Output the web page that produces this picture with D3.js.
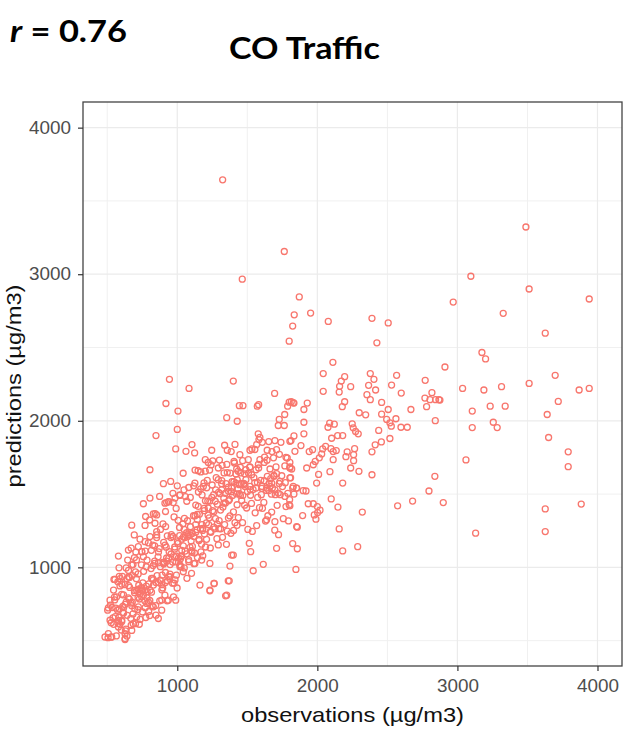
<!DOCTYPE html>
<html>
<head>
<meta charset="utf-8">
<script src="https://cdn.jsdelivr.net/npm/d3@7"></script>
<style>
  body { margin: 0; background: #fff; }
  svg { display: block; }
</style>
</head>
<body>
<svg id="chart" width="627" height="731"></svg>
<script>
// tick values
const majorTicks = [1000, 2000, 3000, 4000]
const minorTicks = [500, 1500, 2500, 3500]
const axisDomain = [327, 4175]

const farPoints = [
  [3489,3322],[3096,2986],[3512,2899],[2970,2810],[3941,2831],[3327,2733],[3627,2598],[3175,2466],
  [3201,2422],[2911,2367],[3698,2310],[3512,2255],[3037,2221],[3189,2210],[3315,2233],[3869,2210],
  [3941,2221],[2875,2141],[3106,2066],[3234,2100],[3341,2100],[3720,2132],[3641,2043],[3106,1954],
  [3256,1990],[3284,1954],[3651,1886],[3791,1788],[3791,1687],[3061,1733],[2899,1442],[3627,1399],
  [3884,1432],[3130,1233],[3627,1244]
]

const topPoints = [
  [1324,3644],[1764,3155],[1464,2966],[1871,2845],[1835,2723],[1952,2735],[1824,2646],[2078,2678],
  [2390,2699],[2506,2668],[1799,2543]
]

const midPoints = [
  [2425,2532],[2111,2399],[2042,2322],[2378,2322],[2195,2301],[2566,2310],[2171,2271],[2404,2283],
  [2770,2276],[2159,2235],[2238,2233],[2366,2242],[2530,2244],[2042,2201],[2156,2196],[2416,2210],
  [2354,2178],[2599,2189],[2818,2192],[2378,2144],[2768,2155],[2804,2144],[2844,2144],[2868,2144],
  [2780,2096],[1814,2130],[1833,2121],[1928,2121],[1904,2077],[2195,2130],[2178,2096],[2459,2125],
  [2506,2077],[2668,2077],[2299,2055],[2345,2041],[2459,2045],[2495,2009],[2518,1986],[2528,1963],
  [2561,2014],[2597,1956],[2642,1956],[2842,2001],[1904,1990],[1904,1911],[1833,1897],[1804,1860],
  [2088,1984],[2076,1956],[2121,1977],[2249,1979],[2256,1952],[2273,1927],[2292,1911],[2145,1899],
  [2181,1899],[2102,1881],[2438,1934],[2518,1879],[2457,1856],[2413,1836],[2390,1788],[1883,1831],
  [2059,1826],[2038,1808],[1942,1790],[1966,1803],[2097,1810],[2113,1790],[2135,1797],[2031,1774],
  [2014,1747],[2213,1788],[2266,1810],[2204,1755],[2259,1769],[2259,1728],[2113,1735],[1985,1723],
  [1971,1700],[1924,1678],[1804,1716],[1804,1678],[2238,1678],[2297,1655],[2090,1653],[2009,1634],
  [2390,1632],[1995,1575],[2181,1575],[2839,1621],[2797,1521],[1809,1612],[1828,1552],[1852,1541],
  [1833,1500],[1899,1523],[1919,1521],[1804,1420],[1935,1434],[1971,1434],[2000,1415],[2019,1390],
  [2002,1374],[1990,1329],[1978,1358],[2099,1467],[2147,1411],[2321,1377],[2573,1420],[2680,1452],
  [1895,1353],[1857,1274],[2156,1262],[1824,1162],[1857,1127],[2181,1112],[2288,1141]
]

const upperCluster = [
  [944,2283],[1400,2271],[1084,2221],[1695,2187],[919,2118],[1443,2103],[1469,2103],[1571,2100],
  [1581,2110],[1799,2127],[1828,2123],[1788,2100],[1005,2066],[1353,2021],[1428,1997],[1767,2043],
  [1728,2009],[1721,1968],[1764,1968],[1000,1941],[848,1899],[1578,1911],[1583,1872],[1607,1853],
  [1567,1838],[1533,1808],[1519,1799],[1697,1865],[1740,1853],[1812,1865],[1105,1838],[1062,1792],
  [1124,1781],[989,1808],[1246,1799],[1338,1833],[1357,1799],[1385,1790],[1642,1799],[1676,1790],
  [1709,1803],[1776,1751],[1840,1792],[1200,1735],[1221,1716],[1241,1699],[1293,1678],[1447,1769],
  [1405,1723],[1467,1728],[1507,1735],[1519,1685],[1590,1735],[1621,1716],[1581,1678],[1424,1671],
  [1452,1644],[1490,1666],[1531,1632],[1562,1666],[1490,1598],[1428,1598],[1662,1671],[1705,1685],
  [1643,1621],[1690,1621],[1733,1587],[1674,1575],[1804,1685],[1817,1671],[1785,1746],[1804,1610],
  [1824,1541],[1852,1541],[805,1666],[953,1586],[901,1571],[1048,1529],[1126,1575],[1186,1552],
  [1214,1593],[1293,1598],[1317,1571],[1348,1571],[1365,1548],[1317,1529],[1274,1529],[1388,1541],
  [1419,1575],[1443,1564],[1476,1564],[1519,1552],[1562,1541],[1605,1552],[1638,1541],[1662,1552],
  [1697,1529],[1721,1507],[1776,1415],[1799,1427],[1852,1278],[1638,1324],[1697,1312],[805,1473],
  [853,1358],[912,1438],[937,1449],[984,1473],[1019,1495]
]

const lowerCluster = [
  [758,1434],[924,1442],[971,1442],[829,1365],[774,1347],[841,1301],[675,1288],[917,1278],
  [853,1244],[693,1221],[770,1175],[805,1210],[722,1141],[746,1107],[651,1118],[580,1077],
  [646,1050],[675,1016],[584,997],[555,917],[545,845],[520,776],[503,708],[520,639],
  [508,548],[532,525],[627,514],[675,570],[580,593],[603,639],[1162,879],[1233,840],
  [1262,890],[1345,806],[1364,908],[1388,1084],[1293,1153],[1233,1027],[1174,1050],[1126,1027],
  [1102,959],[1019,1016],[1043,970],[984,914],[989,776],[912,810],[936,776],[865,651],
  [889,708],[829,731],[782,754],[746,799],[710,662],[722,731],[770,845],[484,525],
  [627,507],[548,918],[1542,977],[1614,1021],[1847,986],[1709,1130],[1353,810],[1371,908],
  [1264,890],[1233,845],[1376,1009],[1400,1084],[1514,1164],[1524,1107]
]

// crowded part of the cloud, estimated block by block
const densePointsA = [
  [508,723],[506,520],[528,622],[523,743],[535,726],[526,524],[541,655],[552,797],[546,611],[561,722],
  [557,664],[553,778],[574,707],[565,532],[576,902],[567,799],[580,637],[586,939],[577,617],[585,716],
  [591,873],[584,659],[600,572],[593,923],[603,816],[591,611],[604,885],[612,692],[604,631],[616,812],
  [611,734],[608,938],[627,547],[617,725],[626,882],[617,689],[630,567],[636,764],[627,747],[635,996],
  [641,923],[634,579],[650,792],[643,673],[653,876],[641,531],[653,935]
]

const densePointsB = [
  [658,783],[652,979],[668,652],[660,863],[670,756],[659,931],[671,605],[679,762],[671,1131],[684,682],
  [679,944],[675,738],[694,1067],[685,615],[694,842],[684,1019],[697,717],[704,1104],[695,827],[702,616],
  [708,923],[702,969],[718,712],[710,843],[720,796],[709,1051],[721,955],[729,612],[721,851],[734,1192],
  [729,784],[725,878],[744,1017],[735,645],[744,862],[734,819],[747,1107],[754,894],[745,847],[752,696],
  [758,1073],[752,839],[768,772],[760,973],[770,1286],[759,811],[771,725],[779,872],[771,1111],[784,792],
  [779,1004],[775,658],[794,1167],[785,835],[794,762],[784,1049],[797,887],[804,774]
]

const densePointsC = [
  [803,1323],[796,699],[813,992],[806,843],[815,1116],[803,671],[816,925],[825,1152],[816,831],[828,1012],
  [824,924],[821,738],[839,1147],[829,915],[839,1042],[830,879],[842,1367],[848,674],[840,1027],[848,896],
  [853,1203],[846,739],[863,1072],[856,943],[865,896],[853,1221],[866,1105],[875,772],[866,1031],[878,912],
  [874,1484],[871,1128],[889,777],[879,1005],[889,882],[880,1259],[892,947],[898,1034],[890,847],[898,1296],
  [903,1023],[896,859],[913,1152],[906,1033],[915,896],[903,1171],[916,965],[925,1042],[916,1381],[928,772],
  [924,1064],[921,1138],[939,937],[929,1215],[939,1062],[930,909],[942,1107],[948,954],[940,1447],[948,936]
]

const densePointsD = [
  [955,1203],[949,1019],[966,892],[958,1223],[967,1036],[956,1091],[969,1505],[977,892],[968,1211],[981,1072],
  [977,1344],[973,798],[991,1037],[982,1125],[992,1402],[982,1139],[994,947],[1001,1174],[993,1077],[1000,1556],
  [1005,1163],[999,859],[1016,1272],[1008,1063],[1017,1216],[1006,1321],[1019,1005],[1027,1072],[1018,1491],[1031,1192],
  [1027,1004],[1023,1058],[1041,1297],[1032,1115],[1042,1642],[1032,1079],[1044,1207],[1051,1334],[1043,1147],[1050,996],
  [1055,1203],[1049,1259],[1066,1092],[1058,1483],[1067,1236],[1056,1111],[1069,925],[1077,1212],[1068,1451],[1081,1052],
  [1077,1224],[1073,1318],[1091,1137],[1082,1545],[1092,1222],[1082,1039],[1094,1277],[1101,1114],[1093,1477]
]

const densePointsE = [
  [1105,1103],[1099,1179],[1116,1352],[1108,1143],[1117,1556],[1106,1231],[1119,1025],[1127,1352],[1118,1211],[1131,1292],
  [1127,1664],[1123,1098],[1141,1257],[1132,1425],[1142,1362],[1132,1239],[1144,1067],[1151,1514],[1143,1327],[1150,1416],
  [1155,1183],[1149,1659],[1166,1262],[1158,1363],[1167,1536],[1156,1191],[1169,1105],[1177,1292],[1168,1651],[1181,1252],
  [1177,1494],[1173,1158],[1191,1577],[1182,1265],[1192,1402],[1182,1079],[1194,1227],[1201,1454],[1193,1387],[1200,1656],
  [1208,1303],[1202,1139],[1218,1452],[1210,1543],[1220,1356],[1209,1191],[1221,1405],[1232,1452],[1224,1291],[1236,1132],
  [1231,1664],[1228,1338],[1247,1477],[1237,1245],[1249,1562],[1240,1239],[1252,1387],[1261,1274],[1253,1727],[1260,1496],
  [1268,1263],[1262,1379],[1278,1612],[1273,1333],[1283,1196],[1271,1451],[1286,1295],[1295,1512],[1286,1431],[1301,1732],
  [1297,1264]
]

const densePointsF = [
  [1305,1503],[1299,1319],[1318,1592],[1310,1263],[1320,1696],[1309,1391],[1323,1205],[1332,1472],[1326,1411],[1338,1292],
  [1334,1644],[1333,1438],[1351,1157],[1342,1505],[1354,1702],[1344,1439],[1357,1247],[1366,1454],[1357,1647],[1365,1336],
  [1373,1463],[1366,1519],[1383,1232],[1378,1643],[1387,1516],[1376,1351],[1391,1585],[1402,1252],[1394,1491],[1408,1712],
  [1404,1584],[1401,1378],[1419,1637],[1412,1305],[1422,1502],[1412,1839],[1427,1427],[1434,1534],[1427,1287],[1435,1656],
  [1443,1503],[1436,1339],[1456,1572],[1450,1683],[1460,1456],[1451,1491],[1466,1305],[1475,1572],[1468,1491],[1484,1552],
  [1481,1424],[1481,1638],[1501,1517],[1495,1405]
]

const densePointsG = [
  [1508,1643],[1504,1259],[1523,1492],[1518,1683],[1530,1436],[1521,1531],[1536,1245],[1547,1612],[1541,1531],[1556,1372],
  [1554,1804],[1553,1578],[1574,1477],[1567,1285],[1579,1702],[1572,1579],[1587,1407],[1596,1594],[1590,1887],[1600,1496],
  [1608,1403],[1604,1539],[1623,1752],[1618,1443],[1630,1316],[1621,1591],[1636,1525],[1647,1352],[1641,1731],[1656,1572],
  [1654,1524],[1653,1858],[1674,1377],[1667,1605],[1679,1542],[1672,1499],[1687,1747],[1696,1254],[1690,1627],[1700,1496],
  [1713,1423],[1709,1639],[1728,1572],[1723,1223],[1735,1496],[1729,1771],[1746,1625],[1757,1332],[1751,1551],[1768,1692],
  [1769,1484],[1771,1578],[1794,1317],[1789,1505],[1802,1462]
]

const points = [
  ...densePointsA, ...densePointsB, ...densePointsC, ...densePointsD, ...densePointsE,
  ...densePointsF, ...densePointsG, ...lowerCluster, ...upperCluster, ...midPoints,
  ...topPoints, ...farPoints
].map(([obs, pred]) => ({ obs, pred }))

const panel = { left: 83, right: 622, top: 102, bottom: 666 }
const svg = d3.select('#chart')

const x = d3.scaleLinear().domain(axisDomain).range([panel.left, panel.right])
const y = d3.scaleLinear().domain(axisDomain).range([panel.bottom, panel.top])

// grid lines
const grid = svg.append('g')
grid.selectAll('.vminor').data(minorTicks).enter().append('line')
  .attr('x1', d => x(d)).attr('x2', d => x(d))
  .attr('y1', panel.top).attr('y2', panel.bottom)
  .attr('stroke', '#F0F0F0').attr('stroke-width', 1)
grid.selectAll('.hminor').data(minorTicks).enter().append('line')
  .attr('y1', d => y(d)).attr('y2', d => y(d))
  .attr('x1', panel.left).attr('x2', panel.right)
  .attr('stroke', '#F0F0F0').attr('stroke-width', 1)
grid.selectAll('.vmajor').data(majorTicks).enter().append('line')
  .attr('x1', d => x(d)).attr('x2', d => x(d))
  .attr('y1', panel.top).attr('y2', panel.bottom)
  .attr('stroke', '#EBEBEB').attr('stroke-width', 1.2)
grid.selectAll('.hmajor').data(majorTicks).enter().append('line')
  .attr('y1', d => y(d)).attr('y2', d => y(d))
  .attr('x1', panel.left).attr('x2', panel.right)
  .attr('stroke', '#EBEBEB').attr('stroke-width', 1.2)

// points
svg.append('g').selectAll('circle')
  .data(points)
  .enter()
  .append('circle')
  .attr('cx', d => x(d.obs))
  .attr('cy', d => y(d.pred))
  .attr('r', 3)
  .attr('fill', 'none')
  .attr('stroke', '#F8766D')
  .attr('stroke-width', 1.3)

// border
svg.append('rect')
  .attr('x', panel.left).attr('y', panel.top)
  .attr('width', panel.right - panel.left).attr('height', panel.bottom - panel.top)
  .attr('fill', 'none').attr('stroke', '#444').attr('stroke-width', 1.3)

// axes
const fmt = d3.format('d')
const xAxis = svg.append('g')
  .attr('transform', `translate(0,${panel.bottom})`)
  .call(d3.axisBottom(x).tickValues(majorTicks).tickFormat(fmt).tickSize(5).tickPadding(8))
const yAxis = svg.append('g')
  .attr('transform', `translate(${panel.left},0)`)
  .call(d3.axisLeft(y).tickValues(majorTicks).tickFormat(fmt).tickSize(5).tickPadding(7))

for (const axis of [xAxis, yAxis]) {
  axis.select('.domain').remove()
  axis.selectAll('.tick line').attr('stroke', '#333').attr('stroke-width', 1.2)
  axis.selectAll('.tick text')
    .attr('fill', '#4D4D4D')
    .style('font-family', '"Liberation Sans", Arial, sans-serif')
    .style('font-size', '18px')
    .attr('textLength', 42)
    .attr('lengthAdjust', 'spacingAndGlyphs')
}

// axis titles
svg.append('text')
  .attr('x', (panel.left + panel.right) / 2)
  .attr('y', 722)
  .attr('text-anchor', 'middle')
  .attr('textLength', 223)
  .attr('lengthAdjust', 'spacingAndGlyphs')
  .style('font-family', '"Liberation Sans", Arial, sans-serif')
  .style('font-size', '21px')
  .attr('fill', '#111')
  .text('observations (µg/m3)')

svg.append('text')
  .attr('transform', `translate(21,${(panel.top + panel.bottom) / 2 + 2}) rotate(-90)`)
  .attr('text-anchor', 'middle')
  .attr('textLength', 203)
  .attr('lengthAdjust', 'spacingAndGlyphs')
  .style('font-family', '"Liberation Sans", Arial, sans-serif')
  .style('font-size', '21px')
  .attr('fill', '#111')
  .text('predictions (µg/m3)')

// headline texts
const rText = svg.append('text')
  .attr('x', 10).attr('y', 42)
  .attr('textLength', 117)
  .attr('lengthAdjust', 'spacingAndGlyphs')
  .style('font-family', 'Lato, "Open Sans", sans-serif')
  .style('font-weight', 700)
  .style('font-size', '30px')
  .attr('fill', '#000')
rText.append('tspan').style('font-style', 'italic').text('r')
rText.append('tspan').text(' = 0.76')

svg.append('text')
  .attr('x', 229).attr('y', 59)
  .attr('textLength', 151)
  .attr('lengthAdjust', 'spacingAndGlyphs')
  .style('font-family', 'Lato, "Open Sans", sans-serif')
  .style('font-weight', 700)
  .style('font-size', '30px')
  .attr('fill', '#000')
  .text('CO Traffic')
</script>
</body>
</html>
